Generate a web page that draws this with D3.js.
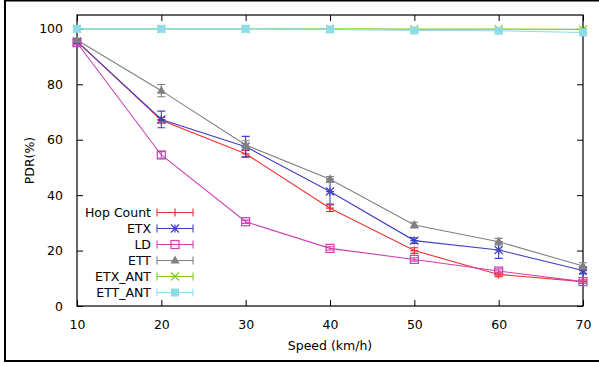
<!DOCTYPE html>
<html>
<head>
<meta charset="utf-8">
<script src="https://cdn.jsdelivr.net/npm/d3@7"></script>
<style>
  body { margin: 0; background: white; }
  text { font-family: "DejaVu Sans", sans-serif; font-size: 12.5px; fill: #000; }
</style>
</head>
<body>
<div class="chart"></div>
<script>
const speeds = [10, 20, 30, 40, 50, 60, 70];
const seriesNames = ['Hop Count', 'ETX', 'LD', 'ETT', 'ETX_ANT', 'ETT_ANT'];
const hopCount = [95.5, 67.0, 54.9, 35.3, 20.0, 11.4, 8.8];
const hopCountErr = [0.8, 1.0, 1.2, 1.2, 1.0, 0.8, 0.6];
const etx = [95.5, 67.3, 57.5, 41.3, 23.6, 20.2, 12.8];
const etxErr = [0.8, 3.0, 3.7, 4.5, 1.0, 3.0, 1.2];
const ld = [95.0, 54.5, 30.4, 20.8, 16.8, 12.6, 8.8];
const ldErr = [0.8, 1.2, 0.6, 0.6, 0.6, 0.8, 0.6];
const ett = [96.0, 77.7, 58.1, 45.7, 29.2, 23.2, 14.4];
const ettErr = [0.6, 2.2, 1.5, 1.0, 1.0, 1.2, 1.2];
const etxAnt = [100, 100, 100, 100, 99.9, 99.9, 99.8];
const etxAntErr = [0.2, 0.2, 0.2, 0.2, 0.3, 0.3, 0.3];
const ettAnt = [100, 100, 100, 99.8, 99.4, 99.3, 98.7];
const ettAntErr = [0.2, 0.2, 0.2, 0.3, 0.4, 0.4, 0.4];
const xTicks = [10, 20, 30, 40, 50, 60, 70];
const yTicks = [0, 20, 40, 60, 80, 100];

const values = [hopCount, etx, ld, ett, etxAnt, ettAnt];
const errors = [hopCountErr, etxErr, ldErr, ettErr, etxAntErr, ettAntErr];
const colors = ['#f03030', '#4040c0', '#d040b0', '#808080', '#80cc20', '#8edcea'];
const markers = ['plus', 'star', 'square', 'triangle', 'cross', 'filledSquare'];

const W = 599, H = 365;
const margin = { top: 15, right: 16, bottom: 59, left: 77 };
const width = W - margin.left - margin.right;
const height = H - margin.top - margin.bottom;

const svg = d3.select('.chart').append('svg')
  .attr('width', W)
  .attr('height', H);

// outer frame
svg.append('rect')
  .attr('x', 5).attr('y', 0.5)
  .attr('width', W).attr('height', 360.5)
  .style('fill', 'none').style('stroke', '#000').style('stroke-width', 2);

const g = svg.append('g')
  .attr('transform', `translate(${margin.left}, ${margin.top})`);

const xScale = d3.scaleLinear().domain([10, 70]).range([0, width]);
const yScale = d3.scaleLinear().domain([0, 105]).range([height, 0]);

// ticks (inward, mirrored) like gnuplot
g.append('g')
  .attr('transform', `translate(0, ${height})`)
  .call(d3.axisBottom(xScale).tickValues(xTicks).tickSize(-6).tickPadding(14).tickFormat(d3.format('d')))
  .call(a => a.select('.domain').remove());
g.append('g')
  .call(d3.axisTop(xScale).tickValues(xTicks).tickSize(-6).tickFormat(''))
  .call(a => a.select('.domain').remove());
g.append('g')
  .call(d3.axisLeft(yScale).tickValues(yTicks).tickSize(-6).tickPadding(14).tickFormat(d3.format('d')))
  .call(a => a.select('.domain').remove());
g.append('g')
  .attr('transform', `translate(${width}, 0)`)
  .call(d3.axisRight(yScale).tickValues(yTicks).tickSize(-6).tickFormat(''))
  .call(a => a.select('.domain').remove());
g.selectAll('.tick line').style('stroke', '#000');
g.selectAll('.tick text').style('font-size', '12.5px').style('font-family', '"DejaVu Sans", sans-serif');

g.append('rect')
  .attr('width', width).attr('height', height)
  .style('fill', 'none').style('stroke', '#000').style('stroke-width', 1.2);

svg.append('text')
  .attr('transform', `translate(34, ${margin.top + height / 2}) rotate(-90)`)
  .attr('text-anchor', 'middle')
  .text('PDR(%)');
svg.append('text')
  .attr('x', margin.left + width / 2)
  .attr('y', 350)
  .attr('text-anchor', 'middle')
  .text('Speed (km/h)');

function drawMarker(sel, type, x, y, color) {
  const s = 4;
  if (type === 'plus' || type === 'star') {
    sel.append('path').attr('d', `M${x - s},${y}H${x + s}M${x},${y - s}V${y + s}`)
      .style('stroke', color).style('stroke-width', 1.2).style('fill', 'none');
  }
  if (type === 'cross' || type === 'star') {
    sel.append('path').attr('d', `M${x - s},${y - s}L${x + s},${y + s}M${x - s},${y + s}L${x + s},${y - s}`)
      .style('stroke', color).style('stroke-width', 1.2).style('fill', 'none');
  }
  if (type === 'square') {
    sel.append('rect').attr('x', x - s).attr('y', y - s).attr('width', 2 * s).attr('height', 2 * s)
      .style('stroke', color).style('stroke-width', 1.2).style('fill', 'none');
  }
  if (type === 'filledSquare') {
    sel.append('rect').attr('x', x - s).attr('y', y - s).attr('width', 2 * s).attr('height', 2 * s)
      .style('fill', color);
  }
  if (type === 'triangle') {
    sel.append('path').attr('d', `M${x},${y - s - 1}L${x + s + 0.5},${y + s - 1}L${x - s - 0.5},${y + s - 1}Z`)
      .style('fill', color);
  }
}

const line = d3.line()
  .x((d, i) => xScale(speeds[i]))
  .y(d => yScale(d));

values.forEach((vals, k) => {
  const c = colors[k];
  const sg = g.append('g');
  sg.append('path')
    .datum(vals)
    .attr('d', line)
    .style('stroke', c).style('stroke-width', 1.1).style('fill', 'none');

  vals.forEach((v, i) => {
    const x = xScale(speeds[i]);
    const y0 = yScale(v - errors[k][i]);
    const y1 = yScale(v + errors[k][i]);
    sg.append('path')
      .attr('d', `M${x},${y0}V${y1}M${x - 4},${y0}H${x + 4}M${x - 4},${y1}H${x + 4}`)
      .style('stroke', c).style('stroke-width', 1.1).style('fill', 'none');
    drawMarker(sg, markers[k], x, yScale(v), c);
  });
});

// legend
const legend = svg.append('g');
seriesNames.forEach((name, k) => {
  const y = 212.5 + k * 16;
  const c = colors[k];
  legend.append('text')
    .attr('x', 151).attr('y', y + 4.5)
    .attr('text-anchor', 'end')
    .text(name);
  legend.append('path')
    .attr('d', `M157,${y}H193M157,${y - 4}V${y + 4}M193,${y - 4}V${y + 4}`)
    .style('stroke', c).style('stroke-width', 1.1).style('fill', 'none');
  drawMarker(legend, markers[k], 175, y, c);
});
</script>
</body>
</html>
